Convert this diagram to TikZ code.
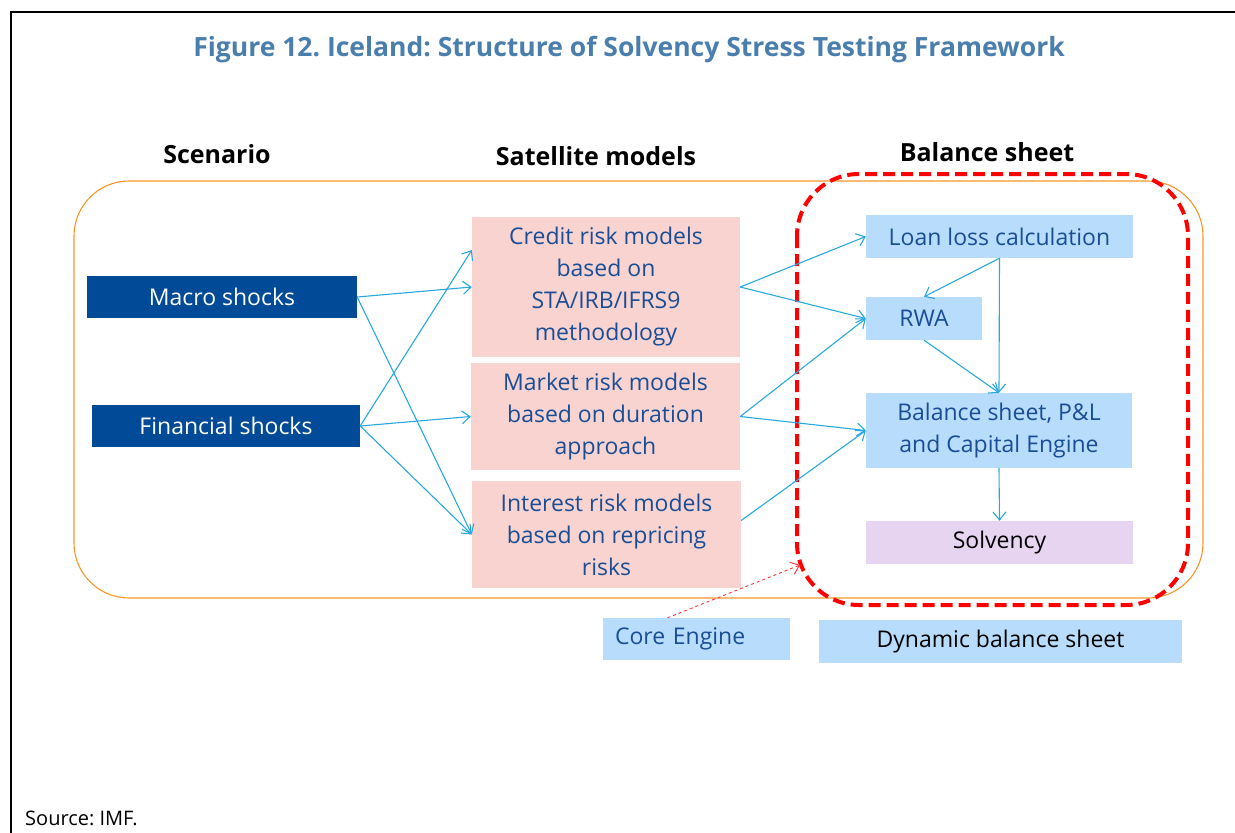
\documentclass[tikz,border=0pt]{standalone}
\usepackage{fontspec}
\setmainfont{Open Sans}
\frenchspacing
\usetikzlibrary{arrows.meta}
\definecolor{titleblue}{RGB}{74,126,173}
\definecolor{navy}{RGB}{0,74,152}
\definecolor{txtblue}{RGB}{25,78,150}
\definecolor{pinkfill}{RGB}{248,211,208}
\definecolor{skyfill}{RGB}{184,220,251}
\definecolor{lilac}{RGB}{230,212,240}
\definecolor{arrowblue}{RGB}{41,168,224}
\definecolor{framorange}{RGB}{250,150,40}
\tikzset{
  shockbox/.style={fill=navy, text=white, minimum height=42pt, inner sep=0pt},
  satbox/.style={fill=pinkfill, text=txtblue, align=center, inner sep=0pt},
  sheetbox/.style={fill=skyfill, text=txtblue, align=center, inner sep=0pt, minimum height=43pt},
  header/.style={font=\bfseries\fontsize{25}{29}\selectfont},
  link/.style={draw=arrowblue, line width=1.1pt, ->}
}
\begin{document}
\begin{tikzpicture}[x=1pt, y=-1pt, >={Straight Barb[length=8pt,width=13pt]},
    every node/.style={font=\fontsize{23}{32}\selectfont}]
  \useasboundingbox (0,0) rectangle (1235,833);
  % outer frame
  \draw[line width=2.5pt] (1235,12) -- (11,12) -- (11,833);
  \node (title) at (629,50) {\color{titleblue}\bfseries\fontsize{26.5}{30}\selectfont Figure 12. Iceland: Structure of Solvency Stress Testing Framework};
  \node[header] (hscen) at (217,154) {Scenario};
  \node[header] (hsat) at (596,156) {Satellite models};
  \node[header] (hbal) at (987,152) {Balance sheet};

  % surrounding boxes
  \draw[framorange, line width=1.1pt, rounded corners=55pt] (74,181) rectangle (1203,598);
  \draw[red, line width=4pt, dash pattern=on 12pt off 6pt, rounded corners=62pt] (797,174) rectangle (1188,605);
  \coordinate (bsedge) at (800,565);

  % scenario
  \node[shockbox, minimum width=270pt] (macro) at (222,297) {Macro shocks};
  \node[shockbox, minimum width=268pt] (fin) at (226,426) {Financial shocks};

  % satellite models
  \node[satbox, minimum width=268pt, minimum height=140pt] (credit) at (606,287) {Credit risk models\\based on\\STA/IRB/IFRS9\\methodology};
  \node[satbox, minimum width=269pt, minimum height=107pt] (market) at (605.5,416.5) {Market risk models\\based on duration\\approach};
  \node[satbox, minimum width=269pt, minimum height=107pt] (interest) at (606.5,534.5) {Interest risk models\\based on repricing\\risks};

  % balance sheet
  \node[sheetbox, minimum width=267pt] (loan) at (999.5,236.5) {Loan loss calculation};
  \node[sheetbox, minimum width=116pt] (rwa) at (924,318.5) {RWA};
  \node[sheetbox, minimum width=266pt, minimum height=75pt] (bspl) at (999,430.5) {Balance sheet, P\&L\\and Capital Engine};
  \node[sheetbox, fill=lilac, text=black, minimum width=267pt] (solv) at (999.5,542.5) {Solvency};
  \node[sheetbox, text width=163pt, align=left, inner xsep=12pt, minimum height=42pt] (core) at (696.5,639) {Core Engine};
  \node[sheetbox, text=black, minimum width=363pt] (dyn) at (1000.5,641.5) {Dynamic balance sheet};

  \node[anchor=west, inner sep=0pt, font=\fontsize{20}{24}\selectfont] (source) at (25,818) {Source: IMF.};

  % connectors
  \draw[link] (macro.east) -- (credit.west);
  \draw[link] (macro.east) -- (interest.west);
  \draw[link] (fin.east) -- ([yshift=37pt]credit.west);
  \draw[link] (fin.east) -- (market.west);
  \draw[link] (fin.east) -- (interest.west);
  \draw[link] (credit.east) -- (loan.west);
  \draw[link] (credit.east) -- (rwa.west);
  \draw[link] (market.east) -- (rwa.west);
  \draw[link] (market.east) -- (bspl.west);
  \draw[link] ([yshift=14pt]interest.east) -- (bspl.west);
  \draw[link] (loan.south) -- (rwa.north);
  \draw[link] (loan.south) -- (bspl.north);
  \draw[link] (rwa.south) -- (bspl.north);
  \draw[link] (bspl.south) -- (solv.north);
  \draw[->, red!80, line width=0.9pt, dashed] ([xshift=-29pt]core.north) -- (bsedge);
\end{tikzpicture}
\end{document}
